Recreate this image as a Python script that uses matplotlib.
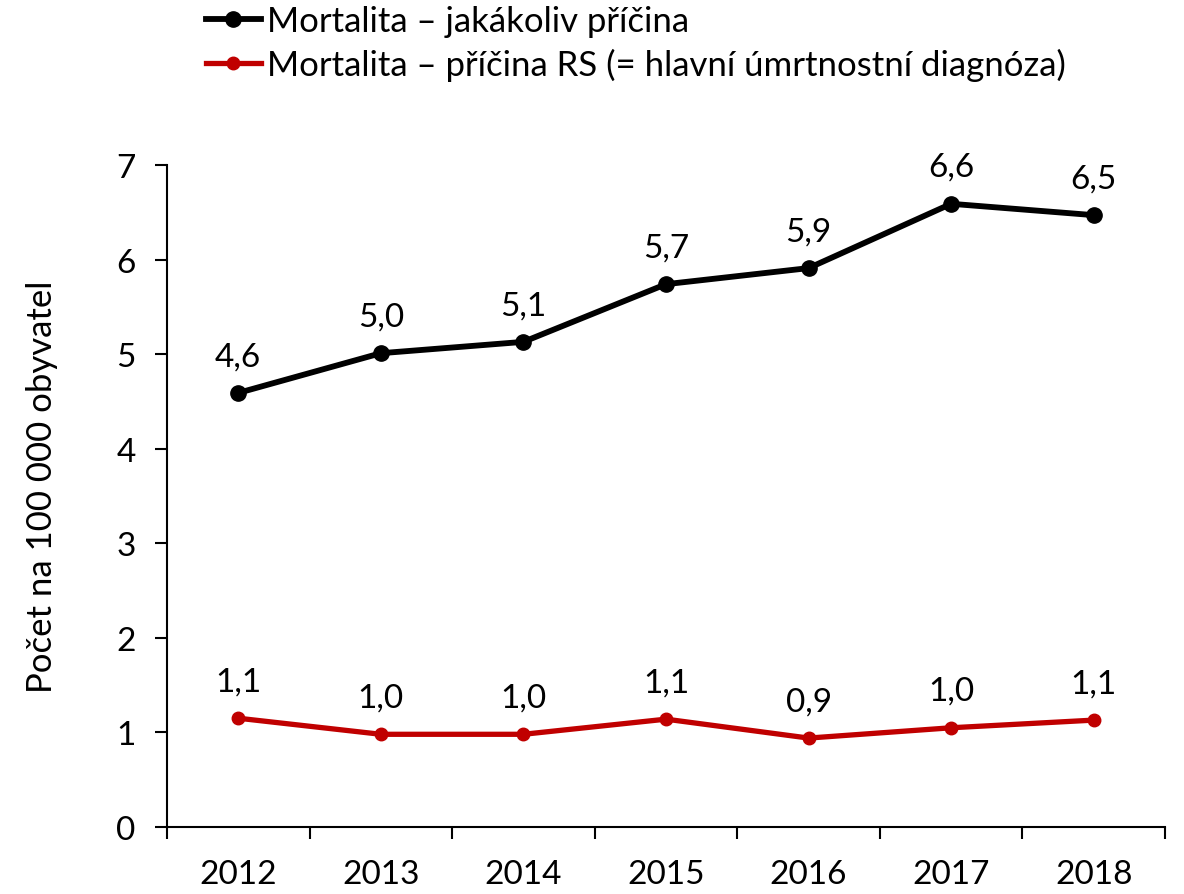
import numpy as np
import matplotlib.pyplot as plt

plt.rcParams['font.family'] = ['Lato', 'DejaVu Sans']

years = ['2012', '2013', '2014', '2015', '2016', '2017', '2018']
mort_all = [4.59, 5.01, 5.13, 5.74, 5.91, 6.59, 6.47]
mort_rs = [1.15, 0.98, 0.98, 1.14, 0.94, 1.049, 1.13]
names = ['Mortalita – jakákoliv příčina',
         'Mortalita – příčina RS (= hlavní úmrtnostní diagnóza)']

fig = plt.figure(figsize=(11.84, 8.95), dpi=100)
ax = fig.add_axes([0.141, 0.0749, 0.843, 0.7396])

x = np.arange(len(years))
l1, = ax.plot(x, mort_all, color='black', lw=4.2, marker='o', ms=11, label=names[0])
l2, = ax.plot(x, mort_rs, color='#C00000', lw=3.8, marker='o', ms=9, label=names[1])

# popisky hodnot nad body
for vals in (mort_all, mort_rs):
    for xi, v in zip(x, vals):
        ax.annotate(f'{v:.1f}'.replace('.', ','), (xi, v), xytext=(0, 20),
                    textcoords='offset points', ha='center', va='baseline',
                    fontsize=24)

ax.set_xlim(-0.5, len(years) - 0.5)
ax.set_ylim(0, 7)
ax.set_yticks(range(8))
ax.set_xticks(np.arange(-0.5, len(years)), [''] * (len(years) + 1))
ax.set_xticks(x, years, minor=True)
ax.tick_params(axis='x', which='major', length=8.6, width=1.5, direction='out')
ax.tick_params(axis='x', which='minor', length=0, pad=23, labelsize=24)
ax.tick_params(axis='y', length=8.6, width=1.5, pad=14, labelsize=24)

for s in ('top', 'right'):
    ax.spines[s].set_visible(False)
for s in ('left', 'bottom'):
    ax.spines[s].set_linewidth(1.5)

ax.set_ylabel('Počet na 100 000 obyvatel', fontsize=25, labelpad=42)
ax.yaxis.label.set_y(0.515)

fig.legend(handles=[l1, l2], loc='upper left', bbox_to_anchor=(0.162, 1.009),
           frameon=False, fontsize=25, handlelength=1.6, handletextpad=0.17,
           labelspacing=0.32, borderaxespad=0)

fig.savefig('out.png', dpi=100)
